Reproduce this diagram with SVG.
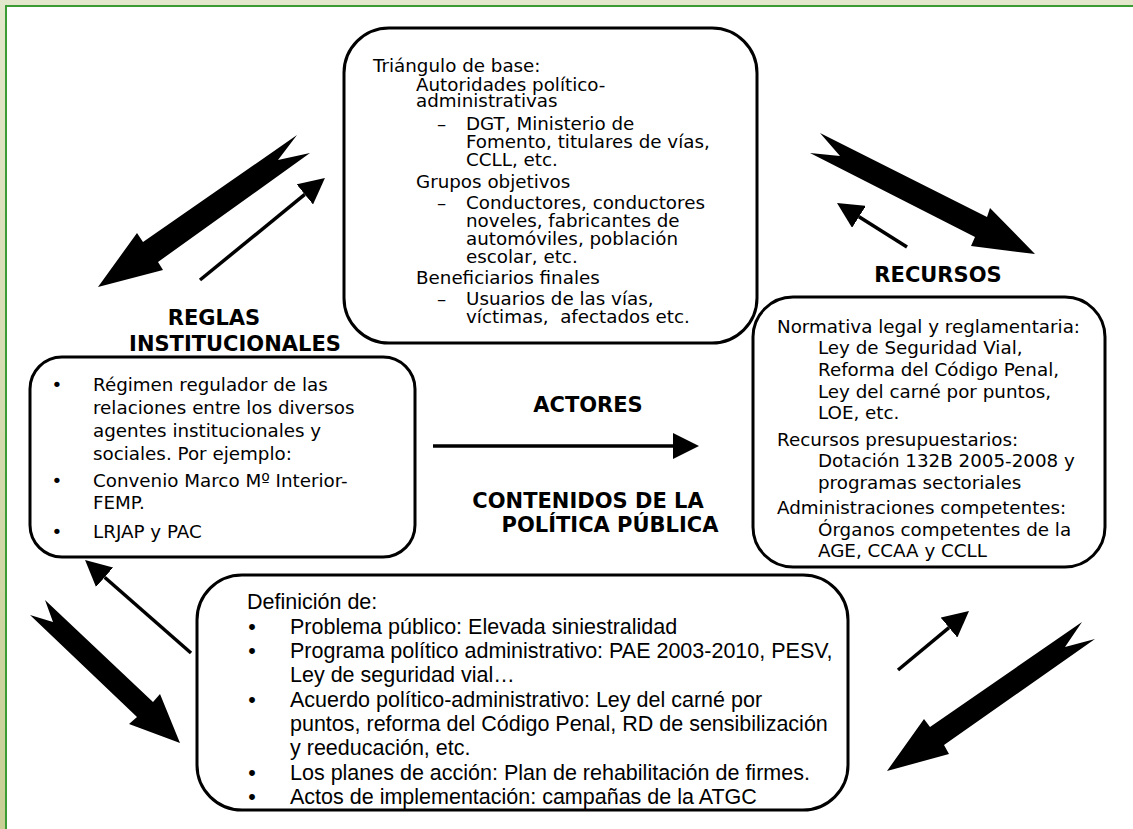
<svg xmlns="http://www.w3.org/2000/svg" width="1133" height="829" viewBox="0 0 1133 829">
<defs>
<linearGradient id="bg" x1="0" y1="0" x2="0" y2="1">
<stop offset="0" stop-color="#e3e7cb"/>
<stop offset="1" stop-color="#c8cf95"/>
</linearGradient>
<marker id="head" markerUnits="userSpaceOnUse" viewBox="0 0 26 26" markerWidth="26" markerHeight="26" refX="0" refY="13" orient="auto">
<path d="M0,0 L26,13 L0,26 z" fill="#000"/>
</marker>
<style>
.box{fill:#fff;stroke:#000;stroke-width:3}
.t{font-family:"DejaVu Sans",Verdana,sans-serif;font-size:18.3px;fill:#000}
.b{font-family:"Liberation Sans",Arial,sans-serif;font-size:21.5px;fill:#000}
.lbl{font-family:"DejaVu Sans",Verdana,sans-serif;font-size:21px;font-weight:bold;fill:#000}
.thin{stroke:#000;stroke-width:3.5;fill:none;marker-end:url(#head)}
.big{fill:#000}
</style>
</defs>
<rect x="0" y="0" width="1133" height="829" fill="url(#bg)"/>
<rect x="6" y="6" width="1140" height="840" fill="#fff" stroke="#3d9b35" stroke-width="2"/>

<g id="connectors">
<polygon class="big" points="98,287 137,233 143,242 297,135 278,160 310,153 158,262 163,270"/>
<polygon class="big" points="1035,254 990,208 987,217 820,133 840,156 810,153 975,237 971,246"/>
<polygon class="big" points="180,743 160,694 153,702 45,600 53,622 30,615 137,717 129,724"/>
<polygon class="big" points="887,771 924,719 930,727 1082,622 1065,647 1095,639 944,745 949,754"/>
<line class="thin" x1="200" y1="280" x2="304.8" y2="194.4"/>
<line class="thin" x1="907" y1="247" x2="859" y2="216.8"/>
<line class="thin" x1="191" y1="653" x2="104.6" y2="577.2"/>
<line class="thin" x1="898" y1="670" x2="949" y2="627.6"/>
<line class="thin" x1="433" y1="446" x2="673" y2="446" stroke-width="4"/>
</g>

<g id="actores">
<rect class="box" x="344" y="28" width="413" height="315" rx="45" ry="45"/>
<text class="t" x="373" y="72">Triángulo de base:</text>
<text class="t" x="416" y="91">Autoridades político-</text>
<text class="t" x="416" y="107">administrativas</text>
<text class="t" x="437" y="130">–</text>
<text class="t" x="466" y="130">DGT, Ministerio de</text>
<text class="t" x="466" y="148">Fomento, titulares de vías,</text>
<text class="t" x="466" y="166">CCLL, etc.</text>
<text class="t" x="416" y="188">Grupos objetivos</text>
<text class="t" x="437" y="209">–</text>
<text class="t" x="466" y="209">Conductores, conductores</text>
<text class="t" x="466" y="227">noveles, fabricantes de</text>
<text class="t" x="466" y="245">automóviles, población</text>
<text class="t" x="466" y="263">escolar, etc.</text>
<text class="t" x="416" y="284">Beneficiarios finales</text>
<text class="t" x="437" y="305">–</text>
<text class="t" x="466" y="305">Usuarios de las vías,</text>
<text class="t" x="466" y="323" xml:space="preserve">víctimas,  afectados etc.</text>
</g>

<g id="reglas">
<text class="lbl" x="214" y="325" text-anchor="middle">REGLAS</text>
<text class="lbl" x="235" y="351" text-anchor="middle">INSTITUCIONALES</text>
<rect class="box" x="30" y="357" width="385" height="200" rx="32" ry="32"/>
<text class="t" x="57" y="391" text-anchor="middle">•</text>
<text class="t" x="93" y="391">Régimen regulador de las</text>
<text class="t" x="93" y="414">relaciones entre los diversos</text>
<text class="t" x="93" y="437">agentes institucionales y</text>
<text class="t" x="93" y="460">sociales. Por ejemplo:</text>
<text class="t" x="57" y="487" text-anchor="middle">•</text>
<text class="t" x="93" y="487">Convenio Marco Mº Interior-</text>
<text class="t" x="93" y="509">FEMP.</text>
<text class="t" x="57" y="538" text-anchor="middle">•</text>
<text class="t" x="93" y="538">LRJAP y PAC</text>
</g>

<g id="recursos">
<text class="lbl" x="938" y="282" text-anchor="middle">RECURSOS</text>
<rect class="box" x="753" y="297" width="352" height="270" rx="40" ry="40"/>
<text class="t" x="777" y="333">Normativa legal y reglamentaria:</text>
<text class="t" x="818" y="354">Ley de Seguridad Vial,</text>
<text class="t" x="818" y="376">Reforma del Código Penal,</text>
<text class="t" x="818" y="398">Ley del carné por puntos,</text>
<text class="t" x="818" y="419">LOE, etc.</text>
<text class="t" x="777" y="446">Recursos presupuestarios:</text>
<text class="t" x="818" y="467">Dotación 132B 2005-2008 y</text>
<text class="t" x="818" y="489">programas sectoriales</text>
<text class="t" x="777" y="514">Administraciones competentes:</text>
<text class="t" x="818" y="536">Órganos competentes de la</text>
<text class="t" x="818" y="557">AGE, CCAA y CCLL</text>
</g>

<g id="actores-label">
<text class="lbl" x="588" y="412" text-anchor="middle">ACTORES</text>
</g>

<g id="contenidos">
<text class="lbl" x="588" y="508" text-anchor="middle">CONTENIDOS DE LA</text>
<text class="lbl" x="610" y="532" text-anchor="middle">POLÍTICA PÚBLICA</text>
<rect class="box" x="197" y="575" width="651" height="235" rx="45" ry="45"/>
<text class="b" x="247" y="609">Definición de:</text>
<text class="b" x="252" y="634" text-anchor="middle">•</text>
<text class="b" x="290" y="634">Problema público: Elevada siniestralidad</text>
<text class="b" x="252" y="658" text-anchor="middle">•</text>
<text class="b" x="290" y="658">Programa político administrativo: PAE 2003-2010, PESV,</text>
<text class="b" x="290" y="682">Ley de seguridad vial…</text>
<text class="b" x="252" y="707" text-anchor="middle">•</text>
<text class="b" x="290" y="707">Acuerdo político-administrativo: Ley del carné por</text>
<text class="b" x="290" y="731">puntos, reforma del Código Penal, RD de sensibilización</text>
<text class="b" x="290" y="755">y reeducación, etc.</text>
<text class="b" x="252" y="780" text-anchor="middle">•</text>
<text class="b" x="290" y="780">Los planes de acción: Plan de rehabilitación de firmes.</text>
<text class="b" x="252" y="804" text-anchor="middle">•</text>
<text class="b" x="290" y="804">Actos de implementación: campañas de la ATGC</text>
</g>
</svg>
